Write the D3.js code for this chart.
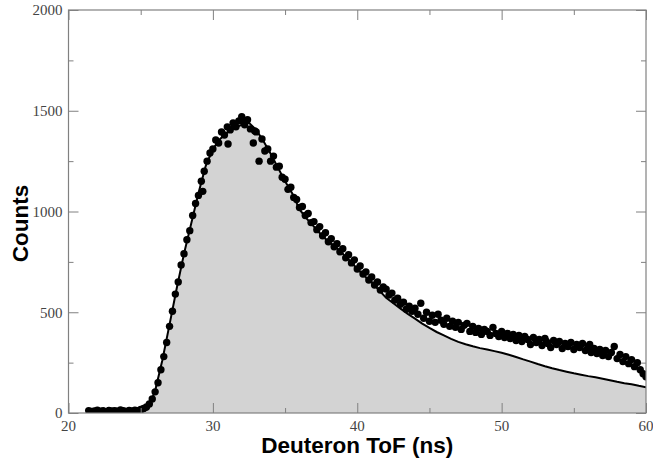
<!DOCTYPE html>
<html>
<head>
<meta charset="utf-8">
<script src="https://cdn.jsdelivr.net/npm/d3@7"></script>
<style>
  body { margin: 0; background: #fff; }
  .tick-label { font-family: "Liberation Serif", "DejaVu Serif", serif; font-size: 15px; fill: #444; }
  .axis-title { font-family: "Liberation Sans", Arial, sans-serif; font-weight: bold; font-size: 22.5px; fill: #000; }
</style>
</head>
<body>
<div id="chart"></div>
<script>

var svgWidth = 653;
var svgHeight = 462;

var margin = { top: 10, right: 7, bottom: 49, left: 68.5 };

var width = svgWidth - margin.left - margin.right;
var height = svgHeight - margin.top - margin.bottom;

// measured deuteron ToF spectrum: [ToF (ns), counts]
var measured = [
  [21.4,12],[21.6,8],[21.8,10],[22.0,14],[22.2,9],[22.4,11],[22.6,7],[22.8,13],[23.0,10],[23.2,12],
  [23.4,9],[23.6,15],[23.8,11],[24.0,8],[24.2,13],[24.4,10],[24.6,14],[24.8,12],[25.0,18],[25.2,22],
  [25.4,30],[25.6,45],[25.8,70],[26.0,105],[26.2,150],[26.4,215],[26.6,280],[26.8,350],[27.0,430],[27.2,505],
  [27.4,590],[27.6,650],[27.8,735],[28.0,790],[28.2,860],[28.4,905],[28.6,980],[28.8,1040],[29.0,1080],[29.2,1150],
  [29.3,1100],[29.4,1200],[29.6,1250],[29.8,1290],[30.0,1310],[30.2,1355],[30.4,1340],[30.6,1395],[30.8,1380],[31.0,1420],
  [31.05,1335],[31.2,1405],[31.4,1440],[31.5,1425],[31.6,1420],[31.8,1450],[32.0,1470],[32.1,1445],[32.2,1430],[32.4,1455],
  [32.6,1410],[32.8,1340],[32.9,1400],[33.0,1395],[33.2,1250],[33.4,1360],[33.6,1300],[33.8,1310],[34.0,1250],[34.2,1275],
  [34.4,1220],[34.6,1225],[34.8,1170],[35.0,1160],[35.2,1110],[35.4,1120],[35.6,1070],[35.8,1060],[36.0,1020],[36.2,1025],
  [36.4,980],[36.6,990],[36.8,945],[37.0,950],[37.2,910],[37.4,925],[37.6,880],[37.8,895],[38.0,850],[38.2,865],
  [38.4,825],[38.6,840],[38.8,800],[39.0,815],[39.2,770],[39.4,785],[39.6,745],[39.8,760],[40.0,715],[40.2,730],
  [40.4,690],[40.6,700],[40.8,660],[41.0,675],[41.2,635],[41.4,650],[41.6,610],[41.8,625],[42.0,615],[42.2,585],
  [42.4,595],[42.6,560],[42.8,570],[43.0,540],[43.2,550],[43.4,515],[43.6,530],[43.8,505],[44.0,520],[44.2,490],
  [44.4,545],[44.6,470],[44.8,500],[45.0,455],[45.2,485],[45.4,450],[45.6,490],[45.8,460],[46.0,440],[46.2,470],
  [46.4,430],[46.6,455],[46.8,425],[47.0,450],[47.2,415],[47.4,435],[47.6,445],[47.8,405],[48.0,430],[48.2,400],
  [48.4,420],[48.6,390],[48.8,415],[49.0,405],[49.2,385],[49.4,425],[49.6,395],[49.8,380],[50.0,405],[50.2,375],
  [50.4,395],[50.6,370],[50.8,390],[51.0,360],[51.2,385],[51.4,355],[51.6,380],[51.8,365],[52.0,340],[52.2,375],
  [52.4,350],[52.6,365],[52.8,335],[53.0,370],[53.1,355],[53.2,345],[53.4,325],[53.6,360],[53.8,340],[54.0,355],
  [54.2,320],[54.4,345],[54.6,330],[54.8,350],[55.0,315],[55.2,340],[55.4,325],[55.6,345],[55.8,310],[56.0,330],
  [56.1,340],[56.2,300],[56.4,320],[56.6,295],[56.8,315],[57.0,285],[57.2,310],[57.4,280],[57.6,300],[57.8,330],
  [58.0,270],[58.2,290],[58.4,255],[58.6,280],[58.8,245],[59.0,265],[59.2,230],[59.4,250],[59.6,215],[59.8,195],
  [60.0,180]
];

// simulated spectrum (line + grey fill): [ToF (ns), counts]
var simulated = [
  [21.4,0],[25.0,0],[25.5,20],[26.0,110],[26.5,262],[27.0,440],[27.5,620],[28.0,790],[28.5,940],[29.0,1090],
  [29.5,1225],[30.0,1310],[30.5,1360],[31.0,1392],[31.5,1415],[32.0,1430],[32.5,1440],[33.0,1405],[33.5,1350],[34.0,1287],
  [34.5,1218],[35.0,1150],[35.5,1090],[36.0,1010],[36.5,965],[37.0,925],[37.5,885],[38.0,850],[38.5,825],[39.0,790],
  [39.5,755],[40.0,715],[40.5,680],[41.0,650],[41.5,610],[42.0,572],[42.5,545],[43.0,518],[43.5,492],[44.0,468],
  [44.5,444],[45.0,422],[45.5,402],[46.0,385],[46.5,368],[47.0,353],[47.5,341],[48.0,331],[48.5,322],[49.0,315],
  [49.5,307],[50.0,299],[50.5,289],[51.0,278],[51.5,266],[52.0,255],[52.5,243],[53.0,232],[53.5,222],[54.0,213],
  [54.5,205],[55.0,197],[55.5,190],[56.0,183],[56.5,177],[57.0,170],[57.5,163],[58.0,155],[58.5,148],[59.0,143],
  [59.5,135],[60.0,128]
];

var xMajor = [20, 30, 40, 50, 60];
var xMinor = [25, 35, 45, 55];
var yMajor = [0, 500, 1000, 1500, 2000];
var yMinor = [250, 750, 1250, 1750];

var svg = d3.select('#chart').append('svg')
  .attr('width', svgWidth)
  .attr('height', svgHeight);

var chartGroup = svg.append('g')
  .attr('transform', `translate(${margin.left}, ${margin.top})`);

var xScale = d3.scaleLinear().domain([20, 60]).range([0, width]);
var yScale = d3.scaleLinear().domain([0, 2000]).range([height, 0]);

chartGroup.append('clipPath').attr('id', 'plot-clip')
  .append('rect').attr('width', width).attr('height', height);

var plot = chartGroup.append('g').attr('clip-path', 'url(#plot-clip)');

// grey area under simulation
plot.append('path')
  .datum(simulated)
  .attr('fill', '#d3d3d3')
  .attr('d', d3.area().x(d => xScale(d[0])).y0(height).y1(d => yScale(d[1])));

plot.append('path')
  .datum(simulated)
  .attr('fill', 'none')
  .attr('stroke', '#000')
  .attr('stroke-width', 2)
  .attr('d', d3.line().x(d => xScale(d[0])).y(d => yScale(d[1])));

// data points
plot.selectAll('circle')
  .data(measured)
  .enter()
  .append('circle')
  .attr('cx', d => xScale(d[0]))
  .attr('cy', d => yScale(d[1]))
  .attr('r', 3.7)
  .attr('fill', '#000');

// axes with inward ticks on all four sides
var axisColor = '#808080';

function styleAxis(g) {
  g.selectAll('.domain').remove();
  g.selectAll('line').attr('stroke', axisColor);
  g.selectAll('text').remove();
}

chartGroup.append('g').attr('transform', `translate(0, ${height})`)
  .call(d3.axisTop(xScale).tickValues(xMajor).tickSize(10)).call(styleAxis);
chartGroup.append('g').attr('transform', `translate(0, ${height})`)
  .call(d3.axisTop(xScale).tickValues(xMinor).tickSize(5)).call(styleAxis);
chartGroup.append('g')
  .call(d3.axisBottom(xScale).tickValues(xMajor).tickSize(10)).call(styleAxis);
chartGroup.append('g')
  .call(d3.axisBottom(xScale).tickValues(xMinor).tickSize(5)).call(styleAxis);
chartGroup.append('g')
  .call(d3.axisRight(yScale).tickValues(yMajor).tickSize(10)).call(styleAxis);
chartGroup.append('g')
  .call(d3.axisRight(yScale).tickValues(yMinor).tickSize(5)).call(styleAxis);
chartGroup.append('g').attr('transform', `translate(${width}, 0)`)
  .call(d3.axisLeft(yScale).tickValues(yMajor).tickSize(10)).call(styleAxis);
chartGroup.append('g').attr('transform', `translate(${width}, 0)`)
  .call(d3.axisLeft(yScale).tickValues(yMinor).tickSize(5)).call(styleAxis);

chartGroup.append('rect')
  .attr('width', width)
  .attr('height', height)
  .attr('fill', 'none')
  .attr('stroke', axisColor)
  .attr('stroke-width', 1.2);

// tick labels
chartGroup.selectAll('.xlab')
  .data(xMajor)
  .enter()
  .append('text')
  .attr('class', 'tick-label')
  .attr('x', d => xScale(d))
  .attr('y', height + 18)
  .attr('text-anchor', 'middle')
  .text(d => d);

chartGroup.selectAll('.ylab')
  .data(yMajor)
  .enter()
  .append('text')
  .attr('class', 'tick-label')
  .attr('x', -6)
  .attr('y', d => yScale(d))
  .attr('dy', '0.35em')
  .attr('text-anchor', 'end')
  .text(d => d);

// axis titles
chartGroup.append('text')
  .attr('class', 'axis-title')
  .attr('x', width / 2)
  .attr('y', height + 40)
  .attr('text-anchor', 'middle')
  .text('Deuteron ToF (ns)');

chartGroup.append('text')
  .attr('class', 'axis-title')
  .attr('transform', `translate(${-41}, ${height / 2 + 12}) rotate(-90)`)
  .attr('text-anchor', 'middle')
  .text('Counts');

</script>
</body>
</html>
